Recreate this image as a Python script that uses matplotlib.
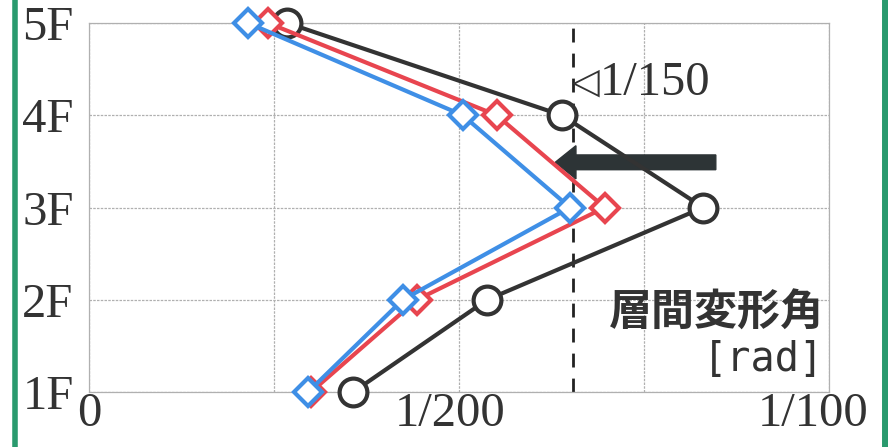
import matplotlib
matplotlib.use("Agg")
import matplotlib.pyplot as plt
from matplotlib.lines import Line2D
from matplotlib.patches import FancyArrow
from matplotlib.transforms import ScaledTranslation

# ---- data ----
floors = [1, 2, 3, 4, 5]
floor_labels = ["1F", "2F", "3F", "4F", "5F"]
series_black = [0.00357, 0.00538, 0.00830, 0.00639, 0.00268]
series_red = [0.00300, 0.00443, 0.00697, 0.00551, 0.00242]
series_blue = [0.00296, 0.00424, 0.00650, 0.00505, 0.00215]
x_ticks = [0, 0.0025, 0.005, 0.0075, 0.01]
x_tick_labels = ["0", "", "1/200", "", "1/100"]
limit_value = 0.00654          # dashed 1/150 line (as drawn)
arrow_start, arrow_end, arrow_y = 0.00847, 0.00630, 3.49

fig = plt.figure(figsize=(8.88, 4.47), dpi=100)
ax = fig.add_axes([0.1002, 0.123, 0.8334, 0.8255])

grid_kw = dict(color="#b0b0b0", lw=0.9, linestyle=(0, (2, 1)))
ax.set_xlim(0, 0.01)
ax.set_ylim(1, 5)
ax.set_xticks(x_ticks)
ax.set_xticklabels(x_tick_labels)
ax.set_yticks(floors)
ax.set_yticklabels(floor_labels)
ax.grid(True, **grid_kw)
for s in ax.spines.values():
    s.set_color("#b0b0b0")
    s.set_linewidth(0.9)
    s.set_linestyle((0, (2, 1)))
ax.tick_params(length=0, labelsize=35)
for lab in ax.get_xticklabels() + ax.get_yticklabels():
    lab.set_family("Liberation Serif")
    lab.set_color("#333333")
ax.tick_params(axis="y", pad=11)
ax.tick_params(axis="x", pad=0)

# shift the fraction labels slightly left, as in the reference
xlabs = ax.get_xticklabels()
xlabs[2].set_transform(xlabs[2].get_transform() + ScaledTranslation(-0.09, 0, fig.dpi_scale_trans))
xlabs[4].set_transform(xlabs[4].get_transform() + ScaledTranslation(-0.16, 0, fig.dpi_scale_trans))

# dashed limit line
ax.axvline(limit_value, color="#222222", lw=2.0, linestyle=(0, (5, 4)), zorder=2)

# arrow
ax.add_patch(FancyArrow(arrow_start, arrow_y, arrow_end - arrow_start, 0,
                        width=0.16, head_width=0.36, head_length=0.00028,
                        length_includes_head=True, color="#2d3436", zorder=3))

common = dict(lw=3.0, mfc="white", mew=3.0, clip_on=False, zorder=4)
ax.plot(series_black, floors, color="#333333", marker="o", ms=20, **common)
ax.plot(series_red, floors, color="#e8454f", marker="D", ms=14.5, **common)
ax.plot(series_blue, floors, color="#3f8fe6", marker="D", ms=14.5, **common)

# annotations
ax.text(0.00672, 4.35, "◁", family="DejaVu Sans", fontsize=26, color="#333333",
        ha="center", va="center", zorder=5)
ax.text(0.0069, 4.35, "1/150", family="Liberation Serif", fontsize=35, color="#333333",
        ha="left", va="center", zorder=5)
ax.text(0.00993, 1.86, "層間変形角", family=["Noto Sans CJK JP", "DejaVu Sans"],
        fontsize=31, fontweight="bold", color="#333333", ha="right", va="center", zorder=5)
ax.text(0.00993, 1.35, "[rad]", family="DejaVu Sans Mono", fontsize=29, color="#333333",
        ha="right", va="center", zorder=5)

# green frame lines
green = "#2a9a6e"
fig.add_artist(Line2D([14.5 / 888, 14.5 / 888], [0, 1], color=green, lw=4))
fig.add_artist(Line2D([885 / 888, 885 / 888], [0, 1], color=green, lw=5))

fig.savefig("out.png", dpi=100)
